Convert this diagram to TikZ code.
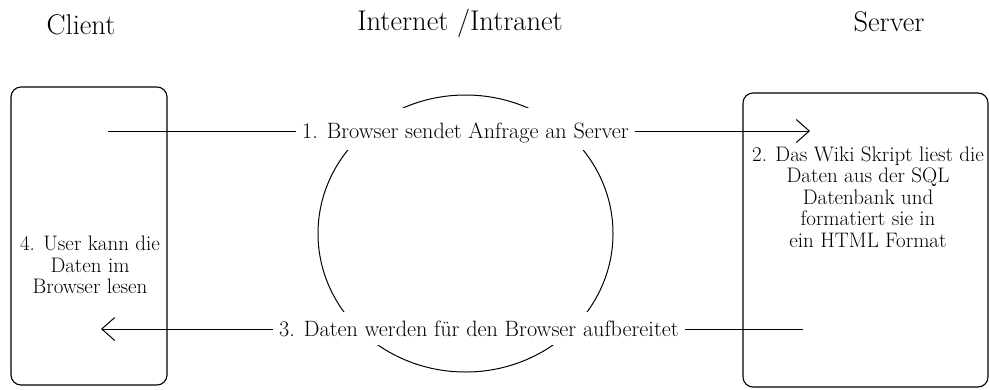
\documentclass[tikz,border=0pt]{standalone}
\usetikzlibrary{arrows.meta,shapes.geometric}
\begin{document}
\begin{tikzpicture}[x=1pt,y=-1pt,
  title/.style={font=\fontsize{28.5}{30}\selectfont, inner sep=0pt},
  boxtext/.style={font=\fontsize{21}{21.5}\selectfont, align=center, inner sep=0pt},
  box/.style={draw, line width=1.1pt, rounded corners=10pt, inner sep=0pt},
  flow/.style={draw, line width=1pt, -{Straight Barb[length=13pt,width=23pt]}},
  flowlabel/.style={font=\fontsize{22.2}{24}\selectfont, fill=white, inner xsep=6pt, anchor=base},
  net/.style={draw, ellipse, line width=1pt, inner sep=0pt}]
\useasboundingbox (0,0) rectangle (990,389);
% titles
\node[title] (tclient) at (81,25) {Client};
\node[title] (tnet) at (460,23) {Internet /Intranet};
\node[title] (tserver) at (889,22) {Server};
% boxes
\draw[box] (11,87) rectangle (167,385);
\node[inner sep=0pt, minimum width=156pt, minimum height=298pt] (client) at (89,236) {};
\draw[box] (743,93) rectangle (988,387);
\node[inner sep=0pt, minimum width=245pt, minimum height=294pt] (server) at (865.5,240) {};
% network ellipse
\node[net, minimum width=295pt, minimum height=277pt] (cloud) at (465.5,233.5) {};
% box texts
\node[boxtext] (stext) at (868,197) {2. Das Wiki Skript liest die\\Daten aus der SQL\\Datenbank und\\formatiert sie in\\ein HTML Format};
\node[boxtext] (ctext) at (90,265) {4. User kann die\\Daten im\\Browser lesen};
% arrows
\coordinate (a1s) at (108,131);
\coordinate (a1e) at (810,131);
\coordinate (a3s) at (803,329);
\coordinate (a3e) at (101,329);
\draw[flow] (a1s) -- (a1e);
\draw[flow] (a3s) -- (a3e);
\node[flowlabel, text height=24.5pt, text depth=5.5pt, inner ysep=6pt] (l1) at (465.5,138.5) {1. Browser sendet Anfrage an Server};
\node[flowlabel, text height=20.5pt, text depth=4.5pt, inner ysep=4pt] (l3) at (479,336.5) {3. Daten werden für den Browser aufbereitet};
\end{tikzpicture}
\end{document}
